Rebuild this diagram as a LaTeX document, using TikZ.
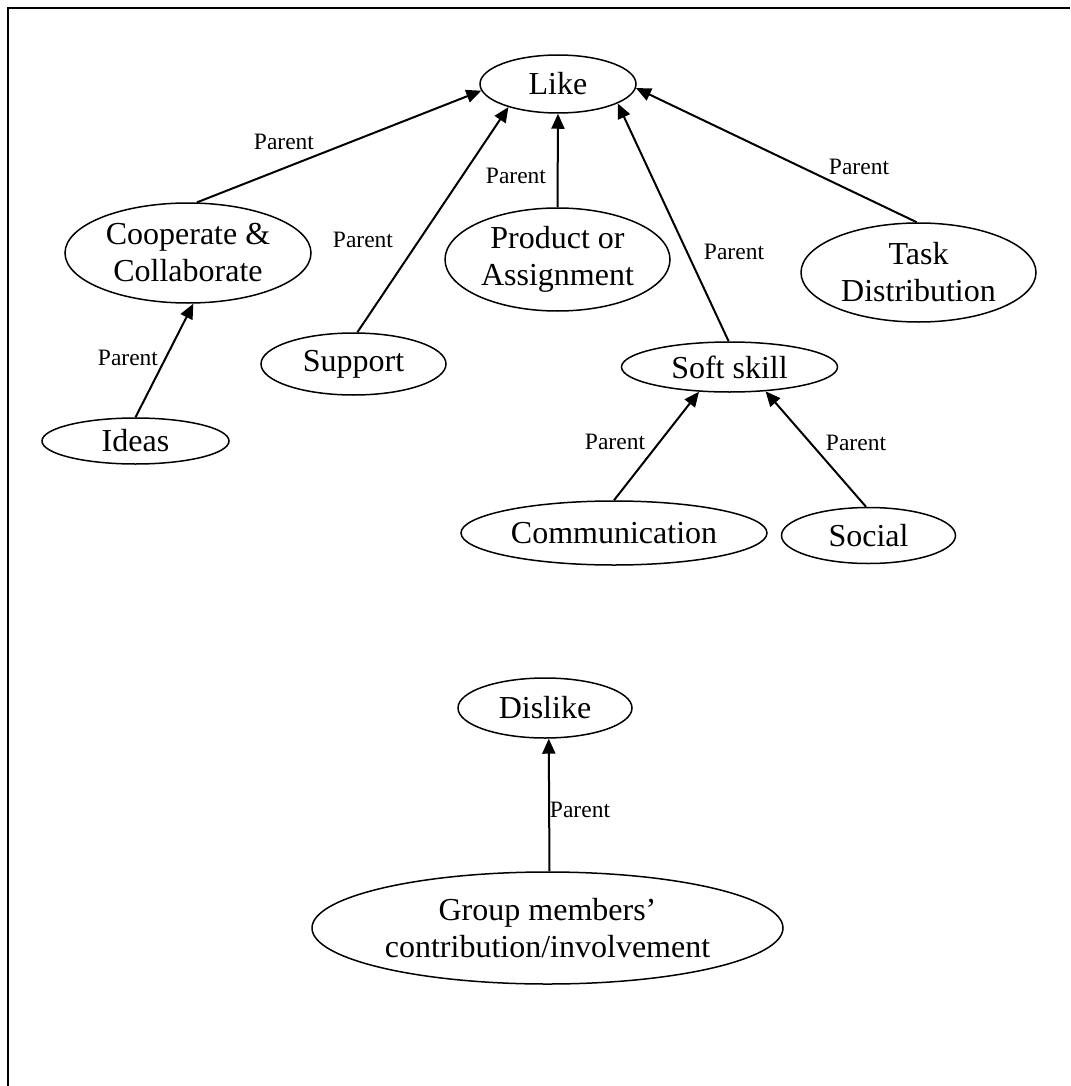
\documentclass[tikz,border=0pt]{standalone}
\usepackage{fontspec}
\setmainfont{Liberation Serif}
\usetikzlibrary{shapes.geometric,arrows.meta}
\tikzset{
  concept/.style={ellipse, draw, line width=1.5pt, inner sep=0pt, align=center,
    font=\fontsize{32}{37}\selectfont},
  relation/.style={line width=2pt, -{Triangle[length=15pt,width=13pt]}},
  rellabel/.style={inner sep=0pt, font=\fontsize{23.5}{27}\selectfont}
}
\begin{document}
\begin{tikzpicture}[x=1pt,y=-1pt]
\useasboundingbox (0,0) rectangle (1070,1086);
\draw[line width=2pt] (8,1086) -- (8,8) -- (1070,8);

% nodes
\node[concept, minimum width=156pt, minimum height=58pt] (like) at (558,84) {Like};
\node[concept, minimum width=246pt, minimum height=100pt] (coop) at (188,253) {Cooperate \&\\Collaborate};
\node[concept, minimum width=225pt, minimum height=103pt] (product) at (557.5,259.5) {Product or\\Assignment};
\node[concept, minimum width=235pt, minimum height=99pt] (task) at (918.5,272.5) {Task\\Distribution};
\node[concept, minimum width=185pt, minimum height=62pt] (support) at (353.5,364) {Support};
\node[concept, minimum width=216pt, minimum height=50pt] (soft) at (729.5,367) {Soft skill};
\node[concept, minimum width=187pt, minimum height=46pt] (ideas) at (135.5,441) {Ideas};
\node[concept, minimum width=306pt, minimum height=64pt] (comm) at (614,533) {Communication};
\node[concept, minimum width=174pt, minimum height=56pt] (social) at (868.5,535.5) {Social};
\node[concept, minimum width=174pt, minimum height=60pt] (dislike) at (545,708) {Dislike};
\node[concept, minimum width=471pt, minimum height=112pt] (group) at (547.5,928) {Group members'\\contribution/involvement};

% connectors
\draw[relation] (coop.80) -- (like.185);
\draw[relation] (support.83) -- (like.205);
\draw[relation] (product.north) -- (like.south);
\draw[relation] (soft.92) -- (like.342);
\draw[relation] (task.92) -- (like.357);
\draw[relation] (ideas.north) -- (coop.276);
\draw[relation] (comm.90) -- (soft.219);
\draw[relation] (social.95) -- (soft.326);
\draw[relation] (group.88.5) -- (dislike.277.6);

% labels
\node[rellabel] (l1) at (284,142) {Parent};
\node[rellabel] (l2) at (363,240) {Parent};
\node[rellabel] (l3) at (516,176) {Parent};
\node[rellabel] (l4) at (734,252) {Parent};
\node[rellabel] (l5) at (859,167) {Parent};
\node[rellabel] (l6) at (128,358) {Parent};
\node[rellabel] (l7) at (615,442) {Parent};
\node[rellabel] (l8) at (856,443) {Parent};
\node[rellabel] (l9) at (580,810) {Parent};
\end{tikzpicture}
\end{document}
